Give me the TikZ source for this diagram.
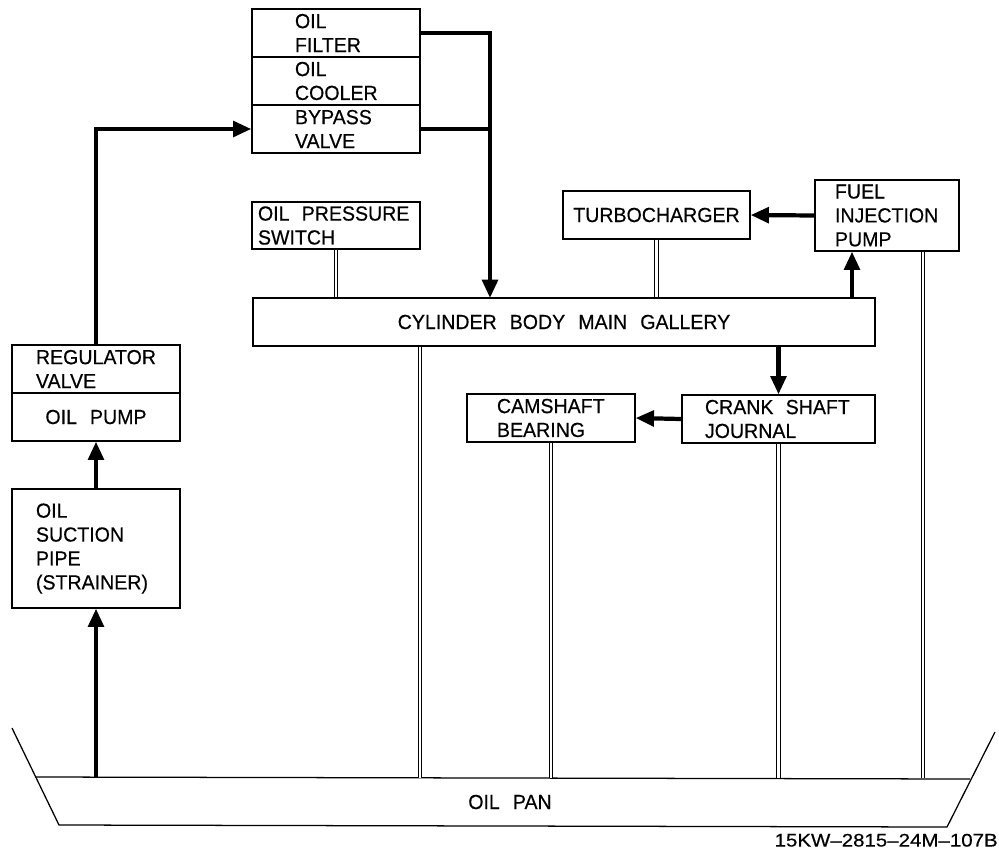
\documentclass[tikz,border=0pt]{standalone}
\usepackage{fontspec}
\setmainfont{Liberation Sans}[FakeStretch=0.96, WordSpace=2.4, FakeBold=0.4]
\newfontfamily\dwgfont{Liberation Sans}[FakeStretch=1.12, FakeBold=0.4]
\usetikzlibrary{arrows.meta,positioning,calc}

\begin{document}
\begin{tikzpicture}[x=0.025cm, y=-0.025cm,
    box/.style={draw, line width=0.9pt, inner sep=0pt, align=left,
      font=\fontsize{14.5}{17}\selectfont},
    flow/.style={line width=3pt, -{Triangle[length=13pt, width=11pt]}},
    feed/.style={line width=3pt},
    pipe/.style={line width=0.7pt, double, double distance=2pt}]
    \useasboundingbox (0,0) rectangle (999,850);

    % Filter / cooler / bypass stack
    \node[box, minimum width=4.2cm, minimum height=1.2cm, text width=2.05cm] (filter) at (336,33) {OIL\\FILTER};
    \node[box, minimum width=4.2cm, minimum height=1.2cm, text width=2.05cm] (cooler) at (336,81) {OIL\\COOLER};
    \node[box, minimum width=4.2cm, minimum height=1.2cm, text width=2.05cm] (bypass) at (336,129) {BYPASS\\VALVE};

    % Upper row
    \node[box, minimum width=4.2cm, minimum height=1.175cm, text width=3.9cm] (switch) at (336,225.5) {OIL\hspace{0.6em}PRESSURE\\SWITCH};
    \node[box, minimum width=4.675cm, minimum height=1.2cm] (turbo) at (656.5,215) {TURBOCHARGER};
    \node[box, minimum width=3.6cm, minimum height=1.775cm, text width=2.6cm] (fuel) at (887,215.5) {FUEL\\INJECTION\\PUMP};

    % Main gallery
    \node[box, minimum width=15.55cm, minimum height=1.2cm] (gallery) at (564,322) {CYLINDER BODY MAIN GALLERY};

    % Pump side
    \node[box, minimum width=4.2cm, minimum height=1.2cm, text width=3cm] (regulator) at (96,369) {REGULATOR\\VALVE};
    \node[box, minimum width=4.2cm, minimum height=1.2cm] (pump) at (96,417) {OIL PUMP};
    \node[box, minimum width=4.2cm, minimum height=2.975cm, text width=3cm] (suction) at (96,548.5) {OIL\\SUCTION\\PIPE\\(STRAINER)};

    % Lower row
    \node[box, minimum width=4.2cm, minimum height=1.2cm, text width=2.7cm] (camshaft) at (551,418) {CAMSHAFT\\BEARING};
    \node[box, minimum width=4.825cm, minimum height=1.2cm, text width=3.675cm] (crank) at (778.5,419) {CRANK\hspace{0.6em}SHAFT\\JOURNAL};

    % Oil pan
    \draw[line width=0.9pt] (12,728) -- (59,825) -- (947,827) -- (995,732);
    \draw[line width=0.9pt] (35,777) -- (970,779);
    \node[font=\fontsize{14.5}{17}\selectfont] (pan) at (510,802) {OIL PAN};
    \node[anchor=south east, inner sep=0pt, font=\fontsize{13}{15}\dwgfont] (drawno) at (998,847) {15KW–2815–24M–107B};

    % Points on the pan and pipe positions
    \coordinate (panL) at (96,778);
    \coordinate (panT) at (0,778);
    \coordinate (drop) at (490,298);
    \coordinate (gp) at (420,0);
    \coordinate (fp) at (852,0);
    \coordinate (rp) at (923,0);

    % Pressure feed
    \draw[flow] (panL) -- (suction.south);
    \draw[flow] (suction.north) -- (pump.south);
    \draw[flow] (regulator.north) |- (bypass.west);
    \draw[flow] (filter.east) -| (drop);
    \draw[feed] (bypass.east) -- (bypass.east -| drop);
    \draw[flow] (gallery.north -| fp) -- (fuel.south -| fp);
    \draw[flow] (fuel.west) -- (turbo.east);
    \draw[flow] (gallery.south -| crank.north) -- (crank.north);
    \draw[flow] (crank.west) -- (camshaft.east);

    % Return lines
    \draw[pipe] (switch.south) -- (switch.south |- gallery.north);
    \draw[pipe] (turbo.south) -- (turbo.south |- gallery.north);
    \draw[pipe] (gallery.south -| gp) -- (panT -| gp);
    \draw[pipe] (camshaft.south) -- (camshaft.south |- panT);
    \draw[pipe] (crank.south) -- (crank.south |- panT);
    \draw[pipe] (fuel.south -| rp) -- (panT -| rp);
\end{tikzpicture}
\end{document}
